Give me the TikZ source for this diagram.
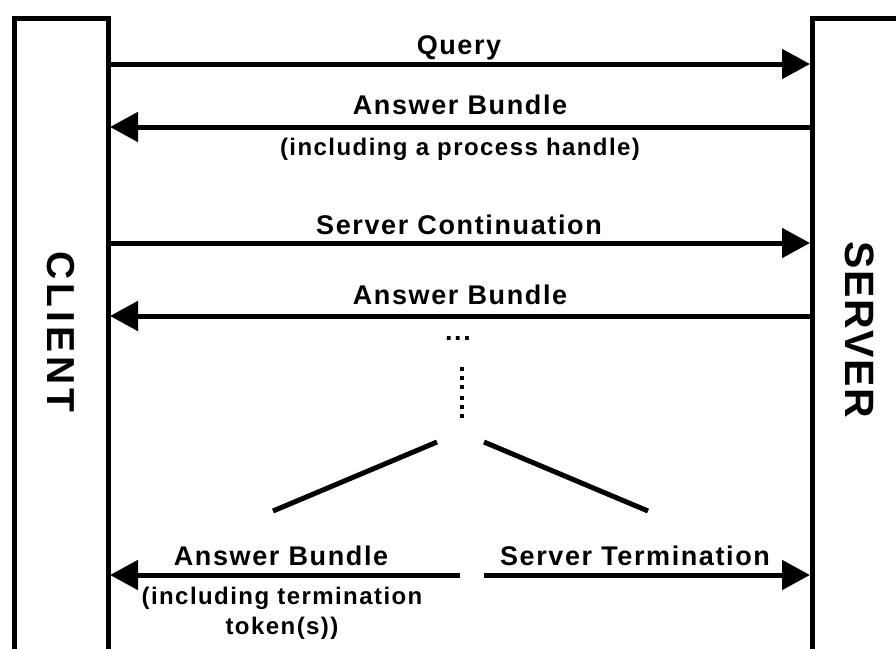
\documentclass[tikz,border=0pt]{standalone}
\usepackage{fontspec}
\usetikzlibrary{arrows.meta}
\newfontfamily\lab{Liberation Sans}[LetterSpace=6]
\newfontfamily\cbig{Liberation Sans}[LetterSpace=10]
\newfontfamily\sbig{Liberation Sans}[LetterSpace=4]
\begin{document}
\begin{tikzpicture}[x=1pt,y=-1pt,
  lane/.style={line width=5pt},
  msg/.style={line width=5pt,-{Triangle[length=28pt,width=29pt]}},
  plain/.style={line width=5pt},
  vdots/.style={line width=4.5pt,dash pattern=on 4pt off 5pt},
  lbl/.style={font=\lab\bfseries\fontsize{27}{30}\selectfont,inner sep=0pt,anchor=base},
  sub/.style={font=\lab\bfseries\fontsize{24}{30}\selectfont,inner sep=0pt,anchor=base},
  big/.style={inner sep=0pt,rotate=-90}
]
\useasboundingbox (0,0) rectangle (896,648);
% lanes
\draw[lane] (14,652) -- (14,18) -- (108,18) -- (108,652);
\draw[lane] (812,652) -- (812,18) -- (900,18);
\node[big,font=\cbig\bfseries\fontsize{39}{39}\selectfont] (client) at (61,332) {CLIENT};
\node[big,font=\sbig\bfseries\fontsize{41}{41}\selectfont] (server) at (860,330) {SERVER};
% endpoints
\coordinate (c1) at (110,64);  \coordinate (s1) at (810,64);
\coordinate (c2) at (110,127); \coordinate (s2) at (810,127);
\coordinate (c3) at (110,243); \coordinate (s3) at (810,243);
\coordinate (c4) at (110,316); \coordinate (s4) at (810,316);
\coordinate (c5) at (110,575); \coordinate (m5) at (460,575);
\coordinate (m6) at (484,575); \coordinate (s6) at (810,575);
\draw[msg] (c1) -- (s1);
\draw[msg] (s2) -- (c2);
\draw[msg] (c3) -- (s3);
\draw[msg] (s4) -- (c4);
\draw[msg] (m5) -- (c5);
\draw[msg] (m6) -- (s6);
% labels
\node[lbl] (q) at (459,54) {Query};
\node[lbl] (ab1) at (460,114) {Answer Bundle};
\node[sub] (ab1s) at (460,155) {(including a process handle)};
\node[lbl] (sc) at (459,234) {Server Continuation};
\node[lbl] (ab2) at (460,304) {Answer Bundle};
\node[lbl] (dots) at (458,340) {...};
\node[lbl] (ab3) at (281,565) {Answer Bundle};
\node[sub] (ab3s) at (282,604) {(including termination};
\node[sub] (ab3t) at (282,634) {token(s))};
\node[lbl] (st) at (635,565) {Server Termination};
% vertical dots and branches
\coordinate (v1) at (462,367); \coordinate (v2) at (462,389);
\coordinate (v3) at (462,396); \coordinate (v4) at (462,418);
\draw[vdots] (v1) -- (v2);
\draw[vdots] (v3) -- (v4);
\coordinate (b1) at (437,442); \coordinate (b2) at (273,511);
\coordinate (b3) at (484,442); \coordinate (b4) at (648,511);
\draw[plain] (b1) -- (b2);
\draw[plain] (b3) -- (b4);
\end{tikzpicture}
\end{document}
